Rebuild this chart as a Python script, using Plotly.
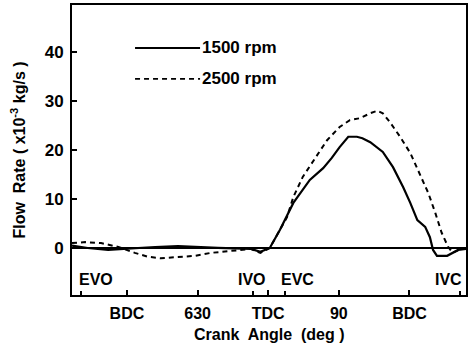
import plotly.graph_objects as go

# Crank angle in degrees (continuous: 540 = BDC, 720 = TDC, 900 = BDC)
angle_1500 = [470, 490, 516, 550, 576, 605, 627, 656, 698, 710, 722, 735, 752, 773, 790, 801, 811, 822,
              833, 840, 850, 866, 879, 892, 901, 910, 920, 926, 930, 935, 948, 955, 962, 972]
flow_1500 = [0.5, 0.0, -0.4, 0.0, 0.2, 0.4, 0.2, 0.0, -0.2, -0.8, 0.0, 3.7, 9.2, 13.9, 16.3, 18.4, 20.6, 22.7,
             22.7, 22.4, 21.6, 19.6, 16.5, 12.4, 9.2, 5.7, 4.3, 2.2, -0.4, -1.6, -1.6, -1.0, -0.4, -0.2]

angle_2500 = [470, 487, 507, 529, 550, 567, 583, 605, 627, 647, 669, 698, 710, 722, 744, 752, 764, 782,
              795, 811, 824, 837, 850, 859, 866, 875, 888, 901, 913, 924, 933, 941, 949, 955, 964, 972]
flow_2500 = [1.0, 1.2, 1.0, 0.2, -1.0, -1.8, -2.1, -1.8, -1.6, -1.0, -0.6, -0.2, -1.0, 0.0, 6.3, 10.4, 14.5, 19.0,
             22.0, 24.7, 26.1, 26.5, 27.5, 28.0, 27.5, 25.7, 22.7, 19.4, 15.3, 11.2, 7.1, 3.1, 0.3, -1.0, -0.3, 0.0]

series_names = ["1500 rpm", "2500 rpm"]

x_tickvals = [540, 630, 720, 810, 900]
x_ticktext = ["BDC", "630", "TDC", "90", "BDC"]
y_tickvals = [0, 10, 20, 30, 40]

event_names = ["EVO", "IVO", "EVC", "IVC"]
event_angles = [481, 700, 741, 964]
event_label_x = [501, 699, 757, 950]

x_title = "Crank  Angle  (deg )"
y_title = "Flow  Rate ( x10<sup>-3</sup> kg/s )"

FONT = "Liberation Sans"

fig = go.Figure()
fig.add_trace(go.Scatter(x=angle_1500, y=flow_1500, mode="lines", name=series_names[0],
                         line=dict(color="black", width=2.2), showlegend=False))
fig.add_trace(go.Scatter(x=angle_2500, y=flow_2500, mode="lines", name=series_names[1],
                         line=dict(color="black", width=2, dash="5px,4px"), showlegend=False))

# legend keys (drawn manually to mimic the original long keys)
legend_y = [0.852, 0.745]
dashes = ["solid", "5px,4px"]
for name, ly, d in zip(series_names, legend_y, dashes):
    fig.add_shape(type="line", xref="paper", yref="paper", x0=0.16, x1=0.325, y0=ly, y1=ly,
                  line=dict(color="black", width=2 if d == "solid" else 1.8, dash=d))
    fig.add_annotation(xref="paper", yref="paper", x=0.325, y=ly, text=name, showarrow=False,
                       xanchor="left", yanchor="middle",
                       font=dict(family=FONT, size=17, color="black", weight="bold"))

for name, lx in zip(event_names, event_label_x):
    fig.add_annotation(x=lx, y=-6.5, text=name, showarrow=False, xanchor="center", yanchor="middle",
                       font=dict(family=FONT, size=16, color="black", weight="bold"))

# x-axis title placed as annotation for exact vertical position
fig.add_annotation(xref="paper", yref="paper", x=0.5, y=-0.135, text=x_title, showarrow=False,
                   xanchor="center", yanchor="middle",
                   font=dict(family=FONT, size=16, color="black", weight="bold"))

fig.update_layout(
    width=474, height=345,
    margin=dict(l=72, r=8, t=5, b=50, autoexpand=False),
    paper_bgcolor="white", plot_bgcolor="white",
    font=dict(family=FONT, size=16, color="black", weight="bold"),
    showlegend=False,
)
fig.update_xaxes(
    range=[470, 972], showgrid=False, zeroline=False, automargin=False,
    showline=True, linecolor="black", linewidth=2, mirror=True,
    ticks="inside", ticklen=5, tickwidth=2, tickcolor="black",
    tickvals=x_tickvals, ticktext=x_ticktext, ticklabelstandoff=3,
    minor=dict(tickvals=event_angles, ticks="inside", ticklen=4, tickwidth=1.5, tickcolor="black"),
    tickfont=dict(family=FONT, size=16, color="black", weight="bold"),
)
fig.update_yaxes(
    range=[-9.6, 49.6], showgrid=False, automargin=False,
    zeroline=True, zerolinecolor="black", zerolinewidth=2,
    showline=True, linecolor="black", linewidth=2, mirror=True,
    ticks="inside", ticklen=5, tickwidth=2, tickcolor="black",
    tickvals=y_tickvals, ticklabelstandoff=3,
    title=dict(text=y_title, font=dict(family=FONT, size=16, color="black", weight="bold")),
    tickfont=dict(family=FONT, size=17, color="black", weight="bold"),
)

fig.write_html("out.html", config={"displayModeBar": False},
               post_script="document.body.style.margin='0';")
